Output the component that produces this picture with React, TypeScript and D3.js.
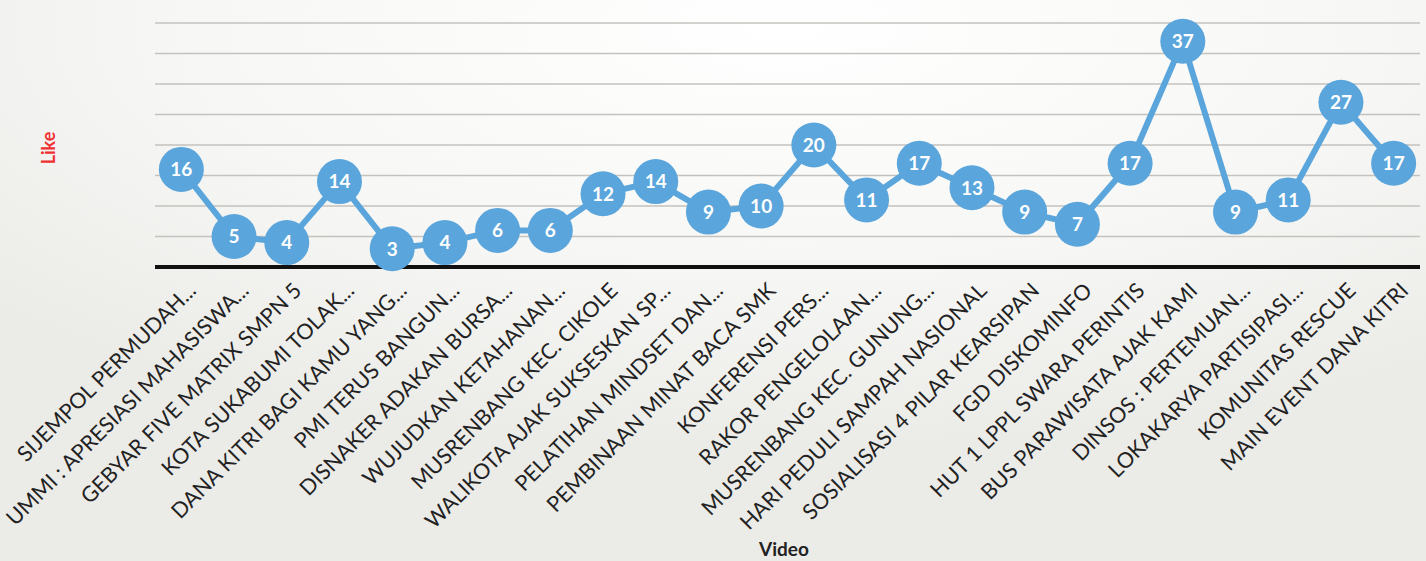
import React, { useEffect } from "react";
import * as d3 from "d3";

const categories: string[] = [
  "SIJEMPOL PERMUDAH...",
  "UMMI : APRESIASI MAHASISWA...",
  "GEBYAR FIVE MATRIX SMPN 5",
  "KOTA SUKABUMI TOLAK...",
  "DANA KITRI BAGI KAMU YANG...",
  "PMI TERUS BANGUN...",
  "DISNAKER ADAKAN BURSA...",
  "WUJUDKAN KETAHANAN...",
  "MUSRENBANG KEC. CIKOLE",
  "WALIKOTA AJAK SUKSESKAN SP...",
  "PELATIHAN MINDSET DAN...",
  "PEMBINAAN MINAT BACA SMK",
  "KONFERENSI PERS...",
  "RAKOR PENGELOLAAN...",
  "MUSRENBANG KEC. GUNUNG...",
  "HARI PEDULI SAMPAH NASIONAL",
  "SOSIALISASI 4 PILAR KEARSIPAN",
  "FGD DISKOMINFO",
  "HUT 1 LPPL SWARA PERINTIS",
  "BUS PARAWISATA AJAK KAMI",
  "DINSOS : PERTEMUAN...",
  "LOKAKARYA PARTISIPASI...",
  "KOMUNITAS RESCUE",
  "MAIN EVENT DANA KITRI",
];

const likes: number[] = [16, 5, 4, 14, 3, 4, 6, 6, 12, 14, 9, 10, 20, 11, 17, 13, 9, 7, 17, 37, 9, 11, 27, 17];

const gridTicks: number[] = [5, 10, 15, 20, 25, 30, 35, 40];

const W = 1426;
const H = 561;
const left = 155;
const right = 1420;
const bottom = 267;
const top = 23;

export default function App() {
  useEffect(() => {
    document.body.style.margin = "0";
  }, []);

  const x = d3.scaleBand<string>().domain(categories).range([left, right]).padding(0);
  const y = d3.scaleLinear().domain([0, 40]).range([bottom, top]);
  const cx = (c: string) => (x(c) as number) + x.bandwidth() / 2;

  const line = d3
    .line<number>()
    .x((_, i) => cx(categories[i]))
    .y((d) => y(d));

  const font = "Lato, 'Open Sans', sans-serif";

  return (
    <svg width={W} height={H} style={{ display: "block" }}>
      <defs>
        <radialGradient id="bg" cx="0.55" cy="0.05" r="0.75">
          <stop offset="0" stopColor="#ffffff" />
          <stop offset="0.55" stopColor="#f7f7f5" />
          <stop offset="1" stopColor="#ebebe8" />
        </radialGradient>
      </defs>
      <rect x={0} y={0} width={W} height={H} fill="url(#bg)" />

      {gridTicks.map((t) => (
        <line
          key={t}
          x1={left}
          x2={right}
          y1={y(t)}
          y2={y(t)}
          stroke="#c4c2be"
          strokeWidth={1.5}
        />
      ))}

      <line x1={left} x2={right} y1={bottom} y2={bottom} stroke="#111" strokeWidth={4} />

      <path d={line(likes) || ""} fill="none" stroke="#5aa5db" strokeWidth={6} />

      {likes.map((v, i) => (
        <g key={i}>
          <circle cx={cx(categories[i])} cy={y(v)} r={22.5} fill="#5aa5db" />
          <text
            x={cx(categories[i])}
            y={y(v)}
            dy="0.36em"
            textAnchor="middle"
            fill="#ffffff"
            fontFamily={font}
            fontWeight={700}
            fontSize={19}
          >
            {v}
          </text>
        </g>
      ))}

      {categories.map((c) => (
        <text
          key={c}
          transform={`translate(${cx(c) + 16},${bottom + 25}) rotate(-45)`}
          textAnchor="end"
          fill="#222"
          fontFamily={font}
          fontSize={21.5}
        >
          {c}
        </text>
      ))}

      <text
        transform={`translate(55,148) rotate(-90)`}
        textAnchor="middle"
        fill="#f03030"
        fontFamily={font}
        fontWeight={700}
        fontSize={18}
      >
        Like
      </text>
      <text
        x={784}
        y={556}
        textAnchor="middle"
        fill="#222"
        fontFamily={font}
        fontWeight={700}
        fontSize={19}
      >
        Video
      </text>
    </svg>
  );
}
